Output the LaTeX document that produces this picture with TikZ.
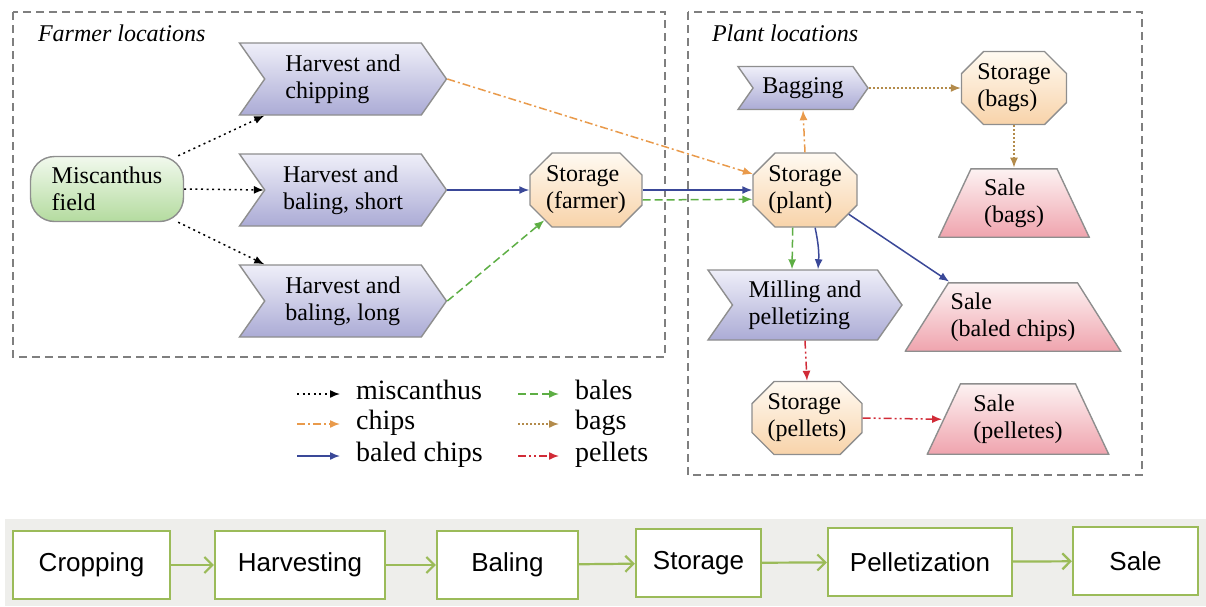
\documentclass[tikz,border=0pt]{standalone}
\usepackage{fontspec}
\setmainfont{Liberation Serif}
\newfontfamily\stagefont{Liberation Sans}
\usepackage{tikz}
\usetikzlibrary{positioning}
\usetikzlibrary{arrows.meta}
\usetikzlibrary{shapes.symbols}
\usetikzlibrary{shapes.misc}
\usetikzlibrary{calc}

\definecolor{framegray}{HTML}{7F7F7F}
\definecolor{edgegray}{HTML}{8E8E8E}
\definecolor{proctop}{HTML}{EFEFF9}
\definecolor{procbot}{HTML}{ABABD5}
\definecolor{storetop}{HTML}{FFFAF2}
\definecolor{storebot}{HTML}{F8D3A9}
\definecolor{saletop}{HTML}{FDF3F3}
\definecolor{salebot}{HTML}{EFA3AD}
\definecolor{fieldtop}{HTML}{F1F9ED}
\definecolor{fieldbot}{HTML}{B4DB9F}
\definecolor{chipcol}{HTML}{E99A4B}
\definecolor{balecol}{HTML}{3A4898}
\definecolor{balescol}{HTML}{5DAE44}
\definecolor{bagcol}{HTML}{B38B4B}
\definecolor{pelletcol}{HTML}{D12B37}
\definecolor{stagegreen}{HTML}{9BBB59}
\definecolor{bargray}{HTML}{EEEEEB}

\begin{document}
\begin{tikzpicture}[x=0.5pt,y=-0.5pt,font=\fontsize{12}{13.5}\selectfont,
  >={Latex[length=5pt,width=4pt]},
  frame/.style={draw=framegray,line width=0.8pt,dash pattern=on 4pt off 2.5pt},
  nodebox/.style={draw=edgegray,line width=0.7pt,align=left,inner sep=2pt},
  process/.style={nodebox,shape=signal,signal to=east,signal from=west,signal pointer angle=110,top color=proctop,bottom color=procbot},
  store/.style={nodebox,shape=chamfered rectangle,inner sep=0.5pt,chamfered rectangle xsep=5.5pt,chamfered rectangle ysep=5.5pt,top color=storetop,bottom color=storebot},
  sale/.style={align=left,inner sep=2pt,path picture={
    \shade[draw=edgegray,line width=0.7pt,top color=saletop,bottom color=salebot]
      ([xshift=0.4pt,yshift=0.4pt]path picture bounding box.south west)
      -- ([xshift=#1,yshift=-0.4pt]path picture bounding box.north west)
      -- ([xshift=-#1,yshift=-0.4pt]path picture bounding box.north east)
      -- ([xshift=-0.4pt,yshift=0.4pt]path picture bounding box.south east) -- cycle;}},
  flow/.style={->,line width=0.75pt},
  miscflow/.style={flow,black,dash pattern=on 1pt off 1.8pt},
  chipflow/.style={flow,chipcol,dash pattern=on 4pt off 1.5pt on 1pt off 1.5pt},
  baledflow/.style={flow,balecol},
  balesflow/.style={flow,balescol,dash pattern=on 4pt off 2pt},
  bagflow/.style={flow,bagcol,dash pattern=on 1pt off 1pt},
  pelletflow/.style={flow,pelletcol,dash pattern=on 4pt off 1.5pt on 1pt off 1.5pt on 1pt off 1.5pt},
  legtext/.style={anchor=west,font=\fontsize{14}{16}\selectfont,text height=1.5ex,text depth=.25ex},
  legline/.style={shorten >=4.5pt},
  stage/.style={draw=stagegreen,line width=1.1pt,fill=white,minimum height=34pt,font=\stagefont\fontsize{13}{15}\selectfont},
  stageflow/.style={-{Straight Barb[length=4pt,width=8pt]},draw=stagegreen,line width=1.1pt}]
  \useasboundingbox (0,0) rectangle (1206,606);
  % location frames
  \draw[frame] (13,12) rectangle (665,357);
  \draw[frame] (688,12) rectangle (1142,475);
  \node[anchor=west,font=\itshape\fontsize{12}{13.5}\selectfont] (farmers) at (31,33) {Farmer locations};
  \node[anchor=west,font=\itshape\fontsize{12}{13.5}\selectfont] (plants) at (705,33) {Plant locations};
  % farmer side
  \node (v) at (0,111) {};
  \node[nodebox,rounded corners=12pt,top color=fieldtop,bottom color=fieldbot,minimum width=76.5pt,minimum height=32.5pt] (field) at (107,189) {Miscanthus\\field};
  \node[process,minimum width=103.5pt,minimum height=36pt] (short) at (343,190) {Harvest and\\baling, short};
  \node[process,minimum width=103.5pt,minimum height=36pt] (chipping) at ($(short)-(v)$) {Harvest and\\chipping};
  \node[process,minimum width=103.5pt,minimum height=36pt] (long) at ($(short)+(v)$) {Harvest and\\baling, long};
  \node[store,minimum width=56pt,minimum height=37pt] (farmstore) at (586,190) {Storage\\(farmer)};
  % plant side
  \node[store,minimum width=52pt,minimum height=37pt] (plantstore) at (805,190) {Storage\\(plant)};
  \node[process,minimum width=65pt,minimum height=21.5pt] (bagging) at (803,88) {Bagging};
  \node[store,minimum width=52.5pt,minimum height=36.5pt] (bagstore) at (1014,88) {Storage\\(bags)};
  \node[sale=16.5pt,minimum width=76pt,minimum height=35pt] (bagsale) at (1014,203) {Sale\\(bags)};
  \node[process,minimum width=97pt,minimum height=35pt] (milling) at (805,305) {Milling and\\pelletizing};
  \node[sale=22pt,minimum width=108.5pt,minimum height=35pt] (chipsale) at (1013,317) {Sale\\(baled chips)};
  \node[store,minimum width=55pt,minimum height=36.5pt] (pelletstore) at (807,418) {Storage\\(pellets)};
  \node[sale=17pt,minimum width=91.5pt,minimum height=36pt] (pelletsale) at (1018,419) {Sale\\(pelletes)};
  % flows
  \draw[miscflow] (field.25) -- (chipping.205);
  \draw[miscflow] (field.east) -- (short.west);
  \draw[miscflow] (field.-25) -- (long.155);
  \draw[chipflow] (chipping.east) -- (plantstore.163);
  \draw[baledflow] (short.east) -- (farmstore.west);
  \draw[balesflow] (long.east) -- (farmstore.216);
  \draw[baledflow] (farmstore.east) -- (plantstore.west);
  \draw[balesflow] (farmstore.-10) -- (plantstore.190);
  \draw[chipflow] (plantstore.north) -- (bagging.south);
  \draw[bagflow] (bagging.east) -- (bagstore.west);
  \draw[bagflow] (bagstore.south) -- (bagsale.north);
  \draw[balesflow] (plantstore.252) -- (milling.110);
  \draw[baledflow] (plantstore.285) to[bend left=8] (milling.70);
  \draw[baledflow] (plantstore.-29) -- (chipsale.151);
  \draw[pelletflow] (milling.south) -- (pelletstore.north);
  \draw[pelletflow,shorten >=-8pt] (pelletstore.east) -- (pelletsale.west);
  % legend
  \node[legtext] (lmisc) at (349,394) {miscanthus};
  \node[legtext] (lchips) at (349,424) {chips};
  \node[legtext] (lbaled) at (349,456) {baled chips};
  \node[legtext] (lbales) at (568,394) {bales};
  \node[legtext] (lbags) at (568,424) {bags};
  \node[legtext] (lpellets) at (568,456) {pellets};
  \draw[miscflow,legline] ($(lmisc.west)+(-52,0)$) -- (lmisc.west);
  \draw[chipflow,legline] ($(lchips.west)+(-52,0)$) -- (lchips.west);
  \draw[baledflow,legline] ($(lbaled.west)+(-52,0)$) -- (lbaled.west);
  \draw[balesflow,legline] ($(lbales.west)+(-50,0)$) -- (lbales.west);
  \draw[bagflow,legline] ($(lbags.west)+(-50,0)$) -- (lbags.west);
  \draw[pelletflow,legline] ($(lpellets.west)+(-50,0)$) -- (lpellets.west);
  % stages
  \fill[bargray] (5,519) rectangle (1206,606);
  \node[stage,minimum width=78.5pt] (cropping) at (91.5,565) {Cropping};
  \node[stage,minimum width=85pt] (harvesting) at (300,565) {Harvesting};
  \node[stage,minimum width=70.5pt] (baling) at (507.5,565) {Baling};
  \node[stage,minimum width=62.5pt] (storage) at (698.5,563) {Storage};
  \node[stage,minimum width=92pt] (pelletization) at (920,562) {Pelletization};
  \node[stage,minimum width=62.5pt] (sale) at (1135.5,561) {Sale};
  \draw[stageflow] (cropping) -- (harvesting);
  \draw[stageflow] (harvesting) -- (baling);
  \draw[stageflow] (baling) -- (storage);
  \draw[stageflow] (storage) -- (pelletization);
  \draw[stageflow] (pelletization) -- (sale);
\end{tikzpicture}
\end{document}
